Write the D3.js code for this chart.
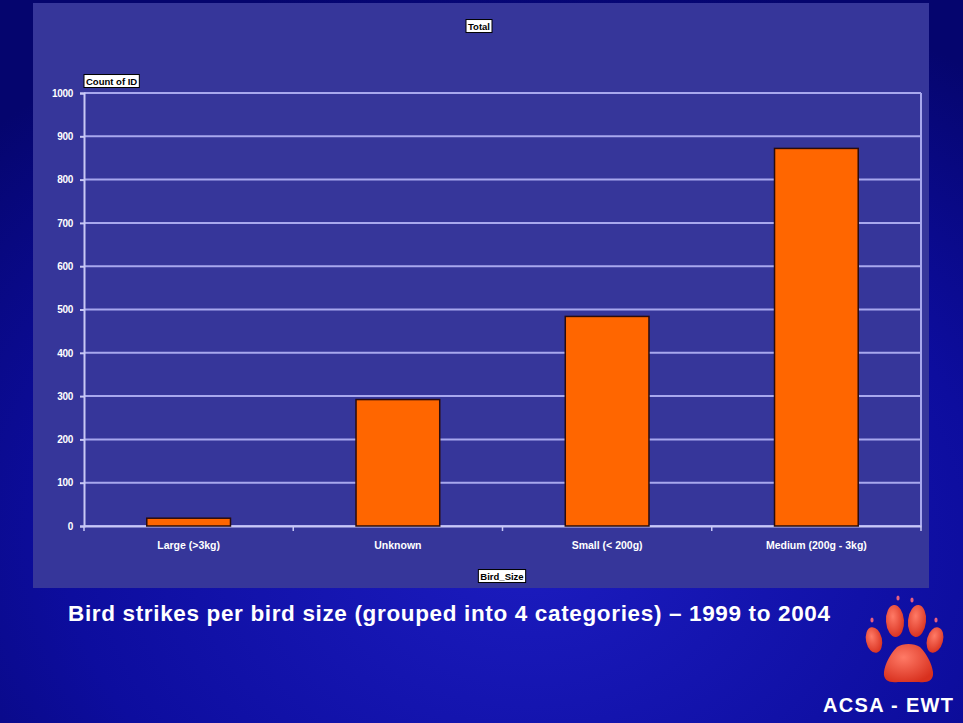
<!DOCTYPE html>
<html><head><meta charset="utf-8">
<script src="https://cdn.jsdelivr.net/npm/d3@7"></script>
<style>body{margin:0;background:#0a0a8c;}svg{display:block}</style>
</head><body>
<script>
const categories = ["Large (>3kg)", "Unknown", "Small (< 200g)", "Medium (200g - 3kg)"];
const counts = [18, 292, 484, 872];
const yTicks = [0,100,200,300,400,500,600,700,800,900,1000];
const chartTitle = "Total";
const yAxisLabel = "Count of ID";
const xAxisLabel = "Bird_Size";
const slideTitle = "Bird strikes per bird size (grouped into 4 categories) \u2013 1999 to 2004";
const brand = "ACSA - EWT";

const W = 963, H = 723;
const svg = d3.select("body").append("svg").attr("width", W).attr("height", H);
const defs = svg.append("defs");
const bg = defs.append("radialGradient").attr("id","bg").attr("cx","0.55").attr("cy","0.75").attr("r","0.8");
bg.append("stop").attr("offset","0").attr("stop-color","#1c1cc0");
bg.append("stop").attr("offset","0.6").attr("stop-color","#0d0d9e");
bg.append("stop").attr("offset","1").attr("stop-color","#05056e");
svg.append("rect").attr("width",W).attr("height",H).attr("fill","url(#bg)");

// chart panel
svg.append("rect").attr("x",33).attr("y",3).attr("width",896).attr("height",585).attr("fill","#36369a");

const m = {left:84, right:921, top:93, bottom:526};
const x = d3.scaleBand().domain(categories).range([m.left, m.right]).paddingInner(0.6).paddingOuter(0.3);
const y = d3.scaleLinear().domain([0,1000]).range([m.bottom, m.top]);

const g = svg.append("g");
g.selectAll("line.grid").data(yTicks).join("line")
  .attr("x1", m.left).attr("x2", m.right)
  .attr("y1", d=>y(d)).attr("y2", d=>y(d))
  .attr("stroke","#a8a8ee").attr("stroke-width",2);
g.append("line").attr("x1",m.right).attr("x2",m.right).attr("y1",m.top).attr("y2",m.bottom)
  .attr("stroke","#a8a8ee").attr("stroke-width",2);

// y axis
const yAxis = d3.axisLeft(y).tickValues(yTicks).tickFormat(d3.format("d")).tickSize(4).tickPadding(7);
const ya = svg.append("g").attr("transform",`translate(${m.left},0)`).call(yAxis);
ya.select(".domain").attr("stroke","#c8c8f5").attr("stroke-width",2);
ya.selectAll(".tick line").attr("stroke","#c8c8f5").attr("stroke-width",2);
ya.selectAll("text").attr("fill","#fff").attr("font-family","Liberation Sans, Arial, sans-serif")
  .attr("font-size",10).attr("font-weight","bold").attr("letter-spacing","-0.3");

// x axis
const xAxis = d3.axisBottom(x).tickSize(0).tickPadding(16);
const xa = svg.append("g").attr("transform",`translate(0,${m.bottom})`).call(xAxis);
xa.select(".domain").attr("stroke","#c8c8f5").attr("stroke-width",2);
xa.selectAll("text").attr("fill","#fff").attr("font-family","Liberation Sans, Arial, sans-serif")
  .attr("font-size",10.5).attr("font-weight","bold");
const seps = categories.map((c,i)=>i).concat([categories.length]);
svg.append("g").selectAll("line").data(seps).join("line")
  .attr("x1", i=>m.left + i*(m.right-m.left)/categories.length)
  .attr("x2", i=>m.left + i*(m.right-m.left)/categories.length)
  .attr("y1", m.bottom).attr("y2", m.bottom+5)
  .attr("stroke","#c8c8f5").attr("stroke-width",1.5);

// bars
svg.append("g").selectAll("rect").data(categories).join("rect")
  .attr("x", d=>x(d)).attr("width", x.bandwidth())
  .attr("y", (d,i)=>y(counts[i])).attr("height",(d,i)=>y(0)-y(counts[i]))
  .attr("fill","#ff6600").attr("stroke","#2a0c0c").attr("stroke-width",1.5);

function boxLabel(txt, cx, cy, anchor){
  const t = svg.append("text").attr("x",cx).attr("y",cy).attr("text-anchor",anchor)
    .attr("dominant-baseline","middle")
    .attr("font-family","Liberation Sans, Arial, sans-serif").attr("font-size",9.5).attr("font-weight","bold")
    .attr("fill","#000").text(txt);
  const b = t.node().getBBox();
  svg.insert("rect", () => t.node()).attr("x",b.x-2).attr("y",b.y-1).attr("width",b.width+4).attr("height",b.height+2)
    .attr("fill","#fff").attr("stroke","#000").attr("stroke-width",1);
}
boxLabel(chartTitle, 479, 27, "middle");
boxLabel(yAxisLabel, 86, 82, "start");
boxLabel(xAxisLabel, 502, 577, "middle");

// slide title
svg.append("text").attr("x",68).attr("y",621).attr("fill","#fff")
  .attr("font-family","Liberation Sans, Arial, sans-serif").attr("font-size",22.5).attr("font-weight","bold")
  .attr("textLength",762).attr("lengthAdjust","spacing")
  .text(slideTitle);
svg.append("text").attr("x",953).attr("y",712).attr("text-anchor","end").attr("fill","#fff")
  .attr("font-family","Liberation Sans, Arial, sans-serif").attr("font-size",20).attr("font-weight","bold")
  .attr("textLength",130).attr("lengthAdjust","spacing")
  .text(brand);

// paw logo
const pg = defs.append("radialGradient").attr("id","paw").attr("cx","0.4").attr("cy","0.35").attr("r","0.7");
pg.append("stop").attr("offset","0").attr("stop-color","#ff7a66");
pg.append("stop").attr("offset","1").attr("stop-color","#d8301e");
const paw = svg.append("g").attr("fill","url(#paw)");
paw.append("path").attr("d","M897,647 C903,643 914,643 920,647 C927,654 932,664 933,672 C934,681 927,683 919,682 L898,682 C890,683 883,681 884,672 C885,664 890,654 897,647 Z");
[[874,640,8,13,-12],[895,621,9,16,-4],[917,621,9,16,6],[935,640,8,13,15]].forEach(([cx,cy,rx,ry,rot])=>{
  paw.append("ellipse").attr("cx",cx).attr("cy",cy).attr("rx",rx).attr("ry",ry)
    .attr("transform",`rotate(${rot},${cx},${cy})`);
});
[[872,620],[898,598],[912,600],[936,620]].forEach(([cx,cy])=>{
  paw.append("ellipse").attr("cx",cx).attr("cy",cy).attr("rx",1.6).attr("ry",2.5).attr("fill","#e86080");
});
</script>
</body></html>
